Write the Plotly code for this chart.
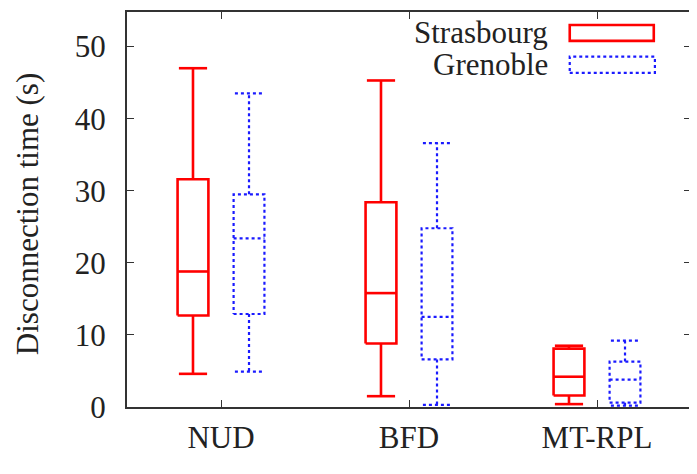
import plotly.graph_objects as go

# Box statistics (seconds)
categories = ['NUD', 'BFD', 'MT-RPL']

strasbourg_min = [4.6, 1.5, 0.4]
strasbourg_q1 = [12.7, 8.8, 1.6]
strasbourg_med = [18.8, 15.8, 4.2]
strasbourg_q3 = [31.6, 28.4, 8.1]
strasbourg_max = [47.0, 45.3, 8.5]

grenoble_min = [4.9, 0.3, 0.2]
grenoble_q1 = [12.9, 6.6, 0.6]
grenoble_med = [23.4, 12.5, 3.8]
grenoble_q3 = [29.5, 24.8, 6.3]
grenoble_max = [43.5, 36.6, 9.2]

FONT = 'Liberation Serif'
FSIZE = 31
OFFSET = 0.149   # shift of each box from the category centre
HALF_BOX = 0.082
HALF_CAP = 0.075


def box_path(lo, q1, med, q3, hi, shift):
    # outline of every box (rectangle, median, whiskers, caps) as one path
    xs, ys = [], []
    for i in range(len(lo)):
        c = i + shift
        l, r = c - HALF_BOX, c + HALF_BOX
        xs += [l, r, r, l, l, None, l, r, None,
               c, c, None, c - HALF_CAP, c + HALF_CAP, None,
               c, c, None, c - HALF_CAP, c + HALF_CAP, None]
        ys += [q1[i], q1[i], q3[i], q3[i], q1[i], None, med[i], med[i], None,
               q3[i], hi[i], None, hi[i], hi[i], None,
               q1[i], lo[i], None, lo[i], lo[i], None]
    return xs, ys


fig = go.Figure()

sx, sy = box_path(strasbourg_min, strasbourg_q1, strasbourg_med,
                  strasbourg_q3, strasbourg_max, -OFFSET)
fig.add_trace(go.Scatter(x=sx, y=sy, mode='lines', name='Strasbourg',
                         line=dict(color='#ff0000', width=2.6)))

gx, gy = box_path(grenoble_min, grenoble_q1, grenoble_med,
                  grenoble_q3, grenoble_max, OFFSET)
fig.add_trace(go.Scatter(x=gx, y=gy, mode='lines', name='Grenoble',
                         line=dict(color='#1a1aff', width=2.2, dash='dot')))

axis_common = dict(
    showline=True, linecolor='#333333', linewidth=2, mirror='ticks',
    ticks='inside', ticklen=7, tickwidth=1.2, tickcolor='#333333',
    showgrid=False, zeroline=False,
    tickfont=dict(family=FONT, size=FSIZE, color='#222222'),
)

fig.update_xaxes(range=[-0.5, 2.5], tickvals=[0, 1, 2], ticktext=categories,
                 ticklabelstandoff=2, **axis_common)
fig.update_yaxes(range=[0, 54.8], tickvals=[0, 10, 20, 30, 40, 50],
                 ticklabelstandoff=13, **axis_common)

# gnuplot-style key: text on the left, sample box on the right
fig.add_annotation(text='Strasbourg', xref='paper', yref='paper', x=0.75, y=0.947,
                   xanchor='right', yanchor='middle', showarrow=False,
                   font=dict(family=FONT, size=FSIZE, color='#222222'))
fig.add_annotation(text='Grenoble', xref='paper', yref='paper', x=0.75, y=0.867,
                   xanchor='right', yanchor='middle', showarrow=False,
                   font=dict(family=FONT, size=FSIZE, color='#222222'))
fig.add_shape(type='rect', xref='paper', yref='paper', x0=0.785, x1=0.934,
              y0=0.927, y1=0.967, line=dict(color='#ff0000', width=2.6))
fig.add_shape(type='rect', xref='paper', yref='paper', x0=0.785, x1=0.936,
              y0=0.846, y1=0.887, line=dict(color='#1a1aff', width=2.2, dash='dot'))

fig.add_annotation(text='Disconnection time (s)', xref='paper', yref='paper',
                   x=-0.175, y=0.489, textangle=-90, xanchor='center',
                   yanchor='middle', showarrow=False,
                   font=dict(family=FONT, size=FSIZE, color='#222222'))

# the page body adds an 8px margin, so the figure is shrunk to compensate
fig.update_layout(
    width=689, height=466,
    margin=dict(l=119, r=6, t=2, b=67),
    plot_bgcolor='white', paper_bgcolor='white',
    showlegend=False,
)

fig.write_html('out.html')
